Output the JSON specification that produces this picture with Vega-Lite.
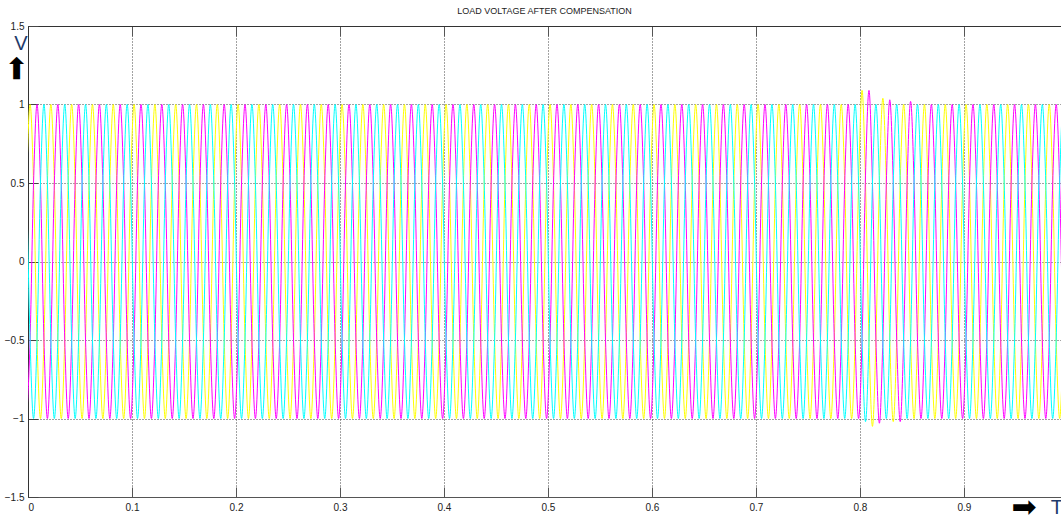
{
"$schema": "https://vega.github.io/schema/vega-lite/v6.json",
"width": 1033, "height": 471,
"autosize": {"type": "none"},
"padding": {"left": 28, "top": 26, "right": 0, "bottom": 19},
"background": "white",
"config": {"view": {"stroke": null}, "font": "Liberation Sans"},
"title": {"text": "LOAD VOLTAGE AFTER COMPENSATION", "fontSize": 9, "fontWeight": "normal", "color": "#222", "offset": 5, "font": "Liberation Sans"},
"datasets": {
"w": [
{"t":-0.00133,"a":0.5,"b":-1,"c":0.5},
{"t":0.002,"a":1,"b":-0.5,"c":-0.5},{"t":0.00533,"a":0.5,"b":0.5,"c":-1},{"t":0.00867,"a":-0.5,"b":1,"c":-0.5},{"t":0.012,"a":-1,"b":0.5,"c":0.5},{"t":0.01533,"a":-0.5,"b":-0.5,"c":1},{"t":0.01867,"a":0.5,"b":-1,"c":0.5},
{"t":0.022,"a":1,"b":-0.5,"c":-0.5},{"t":0.02533,"a":0.5,"b":0.5,"c":-1},{"t":0.02867,"a":-0.5,"b":1,"c":-0.5},{"t":0.032,"a":-1,"b":0.5,"c":0.5},{"t":0.03533,"a":-0.5,"b":-0.5,"c":1},{"t":0.03867,"a":0.5,"b":-1,"c":0.5},
{"t":0.042,"a":1,"b":-0.5,"c":-0.5},{"t":0.04533,"a":0.5,"b":0.5,"c":-1},{"t":0.04867,"a":-0.5,"b":1,"c":-0.5},{"t":0.052,"a":-1,"b":0.5,"c":0.5},{"t":0.05533,"a":-0.5,"b":-0.5,"c":1},{"t":0.05867,"a":0.5,"b":-1,"c":0.5},
{"t":0.062,"a":1,"b":-0.5,"c":-0.5},{"t":0.06533,"a":0.5,"b":0.5,"c":-1},{"t":0.06867,"a":-0.5,"b":1,"c":-0.5},{"t":0.072,"a":-1,"b":0.5,"c":0.5},{"t":0.07533,"a":-0.5,"b":-0.5,"c":1},{"t":0.07867,"a":0.5,"b":-1,"c":0.5},
{"t":0.082,"a":1,"b":-0.5,"c":-0.5},{"t":0.08533,"a":0.5,"b":0.5,"c":-1},{"t":0.08867,"a":-0.5,"b":1,"c":-0.5},{"t":0.092,"a":-1,"b":0.5,"c":0.5},{"t":0.09533,"a":-0.5,"b":-0.5,"c":1},{"t":0.09867,"a":0.5,"b":-1,"c":0.5},
{"t":0.102,"a":1,"b":-0.5,"c":-0.5},{"t":0.10533,"a":0.5,"b":0.5,"c":-1},{"t":0.10867,"a":-0.5,"b":1,"c":-0.5},{"t":0.112,"a":-1,"b":0.5,"c":0.5},{"t":0.11533,"a":-0.5,"b":-0.5,"c":1},{"t":0.11867,"a":0.5,"b":-1,"c":0.5},
{"t":0.122,"a":1,"b":-0.5,"c":-0.5},{"t":0.12533,"a":0.5,"b":0.5,"c":-1},{"t":0.12867,"a":-0.5,"b":1,"c":-0.5},{"t":0.132,"a":-1,"b":0.5,"c":0.5},{"t":0.13533,"a":-0.5,"b":-0.5,"c":1},{"t":0.13867,"a":0.5,"b":-1,"c":0.5},
{"t":0.142,"a":1,"b":-0.5,"c":-0.5},{"t":0.14533,"a":0.5,"b":0.5,"c":-1},{"t":0.14867,"a":-0.5,"b":1,"c":-0.5},{"t":0.152,"a":-1,"b":0.5,"c":0.5},{"t":0.15533,"a":-0.5,"b":-0.5,"c":1},{"t":0.15867,"a":0.5,"b":-1,"c":0.5},
{"t":0.162,"a":1,"b":-0.5,"c":-0.5},{"t":0.16533,"a":0.5,"b":0.5,"c":-1},{"t":0.16867,"a":-0.5,"b":1,"c":-0.5},{"t":0.172,"a":-1,"b":0.5,"c":0.5},{"t":0.17533,"a":-0.5,"b":-0.5,"c":1},{"t":0.17867,"a":0.5,"b":-1,"c":0.5},
{"t":0.182,"a":1,"b":-0.5,"c":-0.5},{"t":0.18533,"a":0.5,"b":0.5,"c":-1},{"t":0.18867,"a":-0.5,"b":1,"c":-0.5},{"t":0.192,"a":-1,"b":0.5,"c":0.5},{"t":0.19533,"a":-0.5,"b":-0.5,"c":1},{"t":0.19867,"a":0.5,"b":-1,"c":0.5},
{"t":0.202,"a":1,"b":-0.5,"c":-0.5},{"t":0.20533,"a":0.5,"b":0.5,"c":-1},{"t":0.20867,"a":-0.5,"b":1,"c":-0.5},{"t":0.212,"a":-1,"b":0.5,"c":0.5},{"t":0.21533,"a":-0.5,"b":-0.5,"c":1},{"t":0.21867,"a":0.5,"b":-1,"c":0.5},
{"t":0.222,"a":1,"b":-0.5,"c":-0.5},{"t":0.22533,"a":0.5,"b":0.5,"c":-1},{"t":0.22867,"a":-0.5,"b":1,"c":-0.5},{"t":0.232,"a":-1,"b":0.5,"c":0.5},{"t":0.23533,"a":-0.5,"b":-0.5,"c":1},{"t":0.23867,"a":0.5,"b":-1,"c":0.5},
{"t":0.242,"a":1,"b":-0.5,"c":-0.5},{"t":0.24533,"a":0.5,"b":0.5,"c":-1},{"t":0.24867,"a":-0.5,"b":1,"c":-0.5},{"t":0.252,"a":-1,"b":0.5,"c":0.5},{"t":0.25533,"a":-0.5,"b":-0.5,"c":1},{"t":0.25867,"a":0.5,"b":-1,"c":0.5},
{"t":0.262,"a":1,"b":-0.5,"c":-0.5},{"t":0.26533,"a":0.5,"b":0.5,"c":-1},{"t":0.26867,"a":-0.5,"b":1,"c":-0.5},{"t":0.272,"a":-1,"b":0.5,"c":0.5},{"t":0.27533,"a":-0.5,"b":-0.5,"c":1},{"t":0.27867,"a":0.5,"b":-1,"c":0.5},
{"t":0.282,"a":1,"b":-0.5,"c":-0.5},{"t":0.28533,"a":0.5,"b":0.5,"c":-1},{"t":0.28867,"a":-0.5,"b":1,"c":-0.5},{"t":0.292,"a":-1,"b":0.5,"c":0.5},{"t":0.29533,"a":-0.5,"b":-0.5,"c":1},{"t":0.29867,"a":0.5,"b":-1,"c":0.5},
{"t":0.302,"a":1,"b":-0.5,"c":-0.5},{"t":0.30533,"a":0.5,"b":0.5,"c":-1},{"t":0.30867,"a":-0.5,"b":1,"c":-0.5},{"t":0.312,"a":-1,"b":0.5,"c":0.5},{"t":0.31533,"a":-0.5,"b":-0.5,"c":1},{"t":0.31867,"a":0.5,"b":-1,"c":0.5},
{"t":0.322,"a":1,"b":-0.5,"c":-0.5},{"t":0.32533,"a":0.5,"b":0.5,"c":-1},{"t":0.32867,"a":-0.5,"b":1,"c":-0.5},{"t":0.332,"a":-1,"b":0.5,"c":0.5},{"t":0.33533,"a":-0.5,"b":-0.5,"c":1},{"t":0.33867,"a":0.5,"b":-1,"c":0.5},
{"t":0.342,"a":1,"b":-0.5,"c":-0.5},{"t":0.34533,"a":0.5,"b":0.5,"c":-1},{"t":0.34867,"a":-0.5,"b":1,"c":-0.5},{"t":0.352,"a":-1,"b":0.5,"c":0.5},{"t":0.35533,"a":-0.5,"b":-0.5,"c":1},{"t":0.35867,"a":0.5,"b":-1,"c":0.5},
{"t":0.362,"a":1,"b":-0.5,"c":-0.5},{"t":0.36533,"a":0.5,"b":0.5,"c":-1},{"t":0.36867,"a":-0.5,"b":1,"c":-0.5},{"t":0.372,"a":-1,"b":0.5,"c":0.5},{"t":0.37533,"a":-0.5,"b":-0.5,"c":1},{"t":0.37867,"a":0.5,"b":-1,"c":0.5},
{"t":0.382,"a":1,"b":-0.5,"c":-0.5},{"t":0.38533,"a":0.5,"b":0.5,"c":-1},{"t":0.38867,"a":-0.5,"b":1,"c":-0.5},{"t":0.392,"a":-1,"b":0.5,"c":0.5},{"t":0.39533,"a":-0.5,"b":-0.5,"c":1},{"t":0.39867,"a":0.5,"b":-1,"c":0.5},
{"t":0.402,"a":1,"b":-0.5,"c":-0.5},{"t":0.40533,"a":0.5,"b":0.5,"c":-1},{"t":0.40867,"a":-0.5,"b":1,"c":-0.5},{"t":0.412,"a":-1,"b":0.5,"c":0.5},{"t":0.41533,"a":-0.5,"b":-0.5,"c":1},{"t":0.41867,"a":0.5,"b":-1,"c":0.5},
{"t":0.422,"a":1,"b":-0.5,"c":-0.5},{"t":0.42533,"a":0.5,"b":0.5,"c":-1},{"t":0.42867,"a":-0.5,"b":1,"c":-0.5},{"t":0.432,"a":-1,"b":0.5,"c":0.5},{"t":0.43533,"a":-0.5,"b":-0.5,"c":1},{"t":0.43867,"a":0.5,"b":-1,"c":0.5},
{"t":0.442,"a":1,"b":-0.5,"c":-0.5},{"t":0.44533,"a":0.5,"b":0.5,"c":-1},{"t":0.44867,"a":-0.5,"b":1,"c":-0.5},{"t":0.452,"a":-1,"b":0.5,"c":0.5},{"t":0.45533,"a":-0.5,"b":-0.5,"c":1},{"t":0.45867,"a":0.5,"b":-1,"c":0.5},
{"t":0.462,"a":1,"b":-0.5,"c":-0.5},{"t":0.46533,"a":0.5,"b":0.5,"c":-1},{"t":0.46867,"a":-0.5,"b":1,"c":-0.5},{"t":0.472,"a":-1,"b":0.5,"c":0.5},{"t":0.47533,"a":-0.5,"b":-0.5,"c":1},{"t":0.47867,"a":0.5,"b":-1,"c":0.5},
{"t":0.482,"a":1,"b":-0.5,"c":-0.5},{"t":0.48533,"a":0.5,"b":0.5,"c":-1},{"t":0.48867,"a":-0.5,"b":1,"c":-0.5},{"t":0.492,"a":-1,"b":0.5,"c":0.5},{"t":0.49533,"a":-0.5,"b":-0.5,"c":1},{"t":0.49867,"a":0.5,"b":-1,"c":0.5},
{"t":0.502,"a":1,"b":-0.5,"c":-0.5},{"t":0.50533,"a":0.5,"b":0.5,"c":-1},{"t":0.50867,"a":-0.5,"b":1,"c":-0.5},{"t":0.512,"a":-1,"b":0.5,"c":0.5},{"t":0.51533,"a":-0.5,"b":-0.5,"c":1},{"t":0.51867,"a":0.5,"b":-1,"c":0.5},
{"t":0.522,"a":1,"b":-0.5,"c":-0.5},{"t":0.52533,"a":0.5,"b":0.5,"c":-1},{"t":0.52867,"a":-0.5,"b":1,"c":-0.5},{"t":0.532,"a":-1,"b":0.5,"c":0.5},{"t":0.53533,"a":-0.5,"b":-0.5,"c":1},{"t":0.53867,"a":0.5,"b":-1,"c":0.5},
{"t":0.542,"a":1,"b":-0.5,"c":-0.5},{"t":0.54533,"a":0.5,"b":0.5,"c":-1},{"t":0.54867,"a":-0.5,"b":1,"c":-0.5},{"t":0.552,"a":-1,"b":0.5,"c":0.5},{"t":0.55533,"a":-0.5,"b":-0.5,"c":1},{"t":0.55867,"a":0.5,"b":-1,"c":0.5},
{"t":0.562,"a":1,"b":-0.5,"c":-0.5},{"t":0.56533,"a":0.5,"b":0.5,"c":-1},{"t":0.56867,"a":-0.5,"b":1,"c":-0.5},{"t":0.572,"a":-1,"b":0.5,"c":0.5},{"t":0.57533,"a":-0.5,"b":-0.5,"c":1},{"t":0.57867,"a":0.5,"b":-1,"c":0.5},
{"t":0.582,"a":1,"b":-0.5,"c":-0.5},{"t":0.58533,"a":0.5,"b":0.5,"c":-1},{"t":0.58867,"a":-0.5,"b":1,"c":-0.5},{"t":0.592,"a":-1,"b":0.5,"c":0.5},{"t":0.59533,"a":-0.5,"b":-0.5,"c":1},{"t":0.59867,"a":0.5,"b":-1,"c":0.5},
{"t":0.602,"a":1,"b":-0.5,"c":-0.5},{"t":0.60533,"a":0.5,"b":0.5,"c":-1},{"t":0.60867,"a":-0.5,"b":1,"c":-0.5},{"t":0.612,"a":-1,"b":0.5,"c":0.5},{"t":0.61533,"a":-0.5,"b":-0.5,"c":1},{"t":0.61867,"a":0.5,"b":-1,"c":0.5},
{"t":0.622,"a":1,"b":-0.5,"c":-0.5},{"t":0.62533,"a":0.5,"b":0.5,"c":-1},{"t":0.62867,"a":-0.5,"b":1,"c":-0.5},{"t":0.632,"a":-1,"b":0.5,"c":0.5},{"t":0.63533,"a":-0.5,"b":-0.5,"c":1},{"t":0.63867,"a":0.5,"b":-1,"c":0.5},
{"t":0.642,"a":1,"b":-0.5,"c":-0.5},{"t":0.64533,"a":0.5,"b":0.5,"c":-1},{"t":0.64867,"a":-0.5,"b":1,"c":-0.5},{"t":0.652,"a":-1,"b":0.5,"c":0.5},{"t":0.65533,"a":-0.5,"b":-0.5,"c":1},{"t":0.65867,"a":0.5,"b":-1,"c":0.5},
{"t":0.662,"a":1,"b":-0.5,"c":-0.5},{"t":0.66533,"a":0.5,"b":0.5,"c":-1},{"t":0.66867,"a":-0.5,"b":1,"c":-0.5},{"t":0.672,"a":-1,"b":0.5,"c":0.5},{"t":0.67533,"a":-0.5,"b":-0.5,"c":1},{"t":0.67867,"a":0.5,"b":-1,"c":0.5},
{"t":0.682,"a":1,"b":-0.5,"c":-0.5},{"t":0.68533,"a":0.5,"b":0.5,"c":-1},{"t":0.68867,"a":-0.5,"b":1,"c":-0.5},{"t":0.692,"a":-1,"b":0.5,"c":0.5},{"t":0.69533,"a":-0.5,"b":-0.5,"c":1},{"t":0.69867,"a":0.5,"b":-1,"c":0.5},
{"t":0.702,"a":1,"b":-0.5,"c":-0.5},{"t":0.70533,"a":0.5,"b":0.5,"c":-1},{"t":0.70867,"a":-0.5,"b":1,"c":-0.5},{"t":0.712,"a":-1,"b":0.5,"c":0.5},{"t":0.71533,"a":-0.5,"b":-0.5,"c":1},{"t":0.71867,"a":0.5,"b":-1,"c":0.5},
{"t":0.722,"a":1,"b":-0.5,"c":-0.5},{"t":0.72533,"a":0.5,"b":0.5,"c":-1},{"t":0.72867,"a":-0.5,"b":1,"c":-0.5},{"t":0.732,"a":-1,"b":0.5,"c":0.5},{"t":0.73533,"a":-0.5,"b":-0.5,"c":1},{"t":0.73867,"a":0.5,"b":-1,"c":0.5},
{"t":0.742,"a":1,"b":-0.5,"c":-0.5},{"t":0.74533,"a":0.5,"b":0.5,"c":-1},{"t":0.74867,"a":-0.5,"b":1,"c":-0.5},{"t":0.752,"a":-1,"b":0.5,"c":0.5},{"t":0.75533,"a":-0.5,"b":-0.5,"c":1},{"t":0.75867,"a":0.5,"b":-1,"c":0.5},
{"t":0.762,"a":1,"b":-0.5,"c":-0.5},{"t":0.76533,"a":0.5,"b":0.5,"c":-1},{"t":0.76867,"a":-0.5,"b":1,"c":-0.5},{"t":0.772,"a":-1,"b":0.5,"c":0.5},{"t":0.77533,"a":-0.5,"b":-0.5,"c":1},{"t":0.77867,"a":0.5,"b":-1,"c":0.5},
{"t":0.782,"a":1,"b":-0.5,"c":-0.5},{"t":0.78533,"a":0.5,"b":0.5,"c":-1},{"t":0.78867,"a":-0.5,"b":1,"c":-0.5},{"t":0.792,"a":-1,"b":0.5,"c":0.5},{"t":0.79533,"a":-0.5,"b":-0.5,"c":1},{"t":0.79867,"a":0.5,"b":-1,"c":0.5},
{"t":0.802,"a":1.09,"b":-0.5,"c":-0.5},{"t":0.80533,"a":0.5,"b":0.55,"c":-1.02},{"t":0.80867,"a":-0.5,"b":1.09,"c":-0.5},{"t":0.812,"a":-1.05,"b":0.5,"c":0.5},{"t":0.81533,"a":-0.5,"b":-0.5,"c":1},{"t":0.81867,"a":0.5,"b":-1.03,"c":0.5},
{"t":0.822,"a":1.04,"b":-0.5,"c":-0.5},{"t":0.82533,"a":0.5,"b":0.5,"c":-1},{"t":0.82867,"a":-0.5,"b":1.03,"c":-0.5},{"t":0.832,"a":-1.02,"b":0.5,"c":0.5},{"t":0.83533,"a":-0.5,"b":-0.5,"c":1},{"t":0.83867,"a":0.5,"b":-1.02,"c":0.5},
{"t":0.842,"a":1,"b":-0.5,"c":-0.5},{"t":0.84533,"a":0.5,"b":0.5,"c":-1},{"t":0.84867,"a":-0.5,"b":1.02,"c":-0.5},{"t":0.852,"a":-1,"b":0.5,"c":0.5},{"t":0.85533,"a":-0.5,"b":-0.5,"c":1},{"t":0.85867,"a":0.5,"b":-1,"c":0.5},
{"t":0.862,"a":1,"b":-0.5,"c":-0.5},{"t":0.86533,"a":0.5,"b":0.5,"c":-1},{"t":0.86867,"a":-0.5,"b":1,"c":-0.5},{"t":0.872,"a":-1,"b":0.5,"c":0.5},{"t":0.87533,"a":-0.5,"b":-0.5,"c":1},{"t":0.87867,"a":0.5,"b":-1,"c":0.5},
{"t":0.882,"a":1,"b":-0.5,"c":-0.5},{"t":0.88533,"a":0.5,"b":0.5,"c":-1},{"t":0.88867,"a":-0.5,"b":1,"c":-0.5},{"t":0.892,"a":-1,"b":0.5,"c":0.5},{"t":0.89533,"a":-0.5,"b":-0.5,"c":1},{"t":0.89867,"a":0.5,"b":-1,"c":0.5},
{"t":0.902,"a":1,"b":-0.5,"c":-0.5},{"t":0.90533,"a":0.5,"b":0.5,"c":-1},{"t":0.90867,"a":-0.5,"b":1,"c":-0.5},{"t":0.912,"a":-1,"b":0.5,"c":0.5},{"t":0.91533,"a":-0.5,"b":-0.5,"c":1},{"t":0.91867,"a":0.5,"b":-1,"c":0.5},
{"t":0.922,"a":1,"b":-0.5,"c":-0.5},{"t":0.92533,"a":0.5,"b":0.5,"c":-1},{"t":0.92867,"a":-0.5,"b":1,"c":-0.5},{"t":0.932,"a":-1,"b":0.5,"c":0.5},{"t":0.93533,"a":-0.5,"b":-0.5,"c":1},{"t":0.93867,"a":0.5,"b":-1,"c":0.5},
{"t":0.942,"a":1,"b":-0.5,"c":-0.5},{"t":0.94533,"a":0.5,"b":0.5,"c":-1},{"t":0.94867,"a":-0.5,"b":1,"c":-0.5},{"t":0.952,"a":-1,"b":0.5,"c":0.5},{"t":0.95533,"a":-0.5,"b":-0.5,"c":1},{"t":0.95867,"a":0.5,"b":-1,"c":0.5},
{"t":0.962,"a":1,"b":-0.5,"c":-0.5},{"t":0.96533,"a":0.5,"b":0.5,"c":-1},{"t":0.96867,"a":-0.5,"b":1,"c":-0.5},{"t":0.972,"a":-1,"b":0.5,"c":0.5},{"t":0.97533,"a":-0.5,"b":-0.5,"c":1},{"t":0.97867,"a":0.5,"b":-1,"c":0.5},
{"t":0.982,"a":1,"b":-0.5,"c":-0.5},{"t":0.98533,"a":0.5,"b":0.5,"c":-1},{"t":0.98867,"a":-0.5,"b":1,"c":-0.5},{"t":0.992,"a":-1,"b":0.5,"c":0.5},{"t":0.99533,"a":-0.5,"b":-0.5,"c":1},{"t":0.99867,"a":0.5,"b":-1,"c":0.5}
],
"ann": [
{"s":"V","k":"letter","t":-0.0067,"v":1.385},
{"s":"T","k":"letter","t":0.9894,"v":-1.57},
{"s":"➡","k":"up","t":-0.0106,"v":1.23},
{"s":"➡","k":"right","t":0.9577,"v":-1.57}
]
},
"resolve": {"axis": {"x": "independent", "y": "independent"}},
"layer": [
{
"data": {"name": "w"},
"transform": [{"fold": ["a", "b", "c"], "as": ["ph", "v"]}],
"mark": {"type": "line", "interpolate": "monotone", "strokeWidth": 1, "clip": true},
"encoding": {
"x": {"field": "t", "type": "quantitative", "scale": {"domain": [0, 0.9933], "nice": false, "zero": false},
"axis": {"orient": "bottom", "values": [0, 0.1, 0.2, 0.3, 0.4, 0.5, 0.6, 0.7, 0.8, 0.9], "format": "~g", "grid": true, "gridColor": "#444", "gridDash": [1, 2], "gridWidth": 1, "tickSize": -10, "tickColor": "#555", "domainColor": "#555", "labelFontSize": 10, "labelColor": "#222", "labelPadding": 15, "title": null}},
"y": {"field": "v", "type": "quantitative", "scale": {"domain": [-1.5, 1.5], "nice": false, "zero": false},
"axis": {"orient": "left", "values": [-1.5, -1, -0.5, 0, 0.5, 1, 1.5], "format": "~g", "grid": true, "gridColor": "#444", "gridDash": [1, 2], "gridWidth": 1, "tickSize": -10, "tickColor": "#444", "domainColor": "#333", "labelFontSize": 10, "labelColor": "#222", "labelPadding": 14, "title": null}},
"color": {"field": "ph", "type": "nominal", "scale": {"domain": ["a", "b", "c"], "range": ["#ffff00", "#ff00ff", "#00ffff"]}, "legend": null}
}
},
{
"data": {"name": "ann"},
"transform": [{"filter": "datum.k == 'letter'"}],
"mark": {"type": "text", "fontSize": 20, "color": "#1f3b6b", "align": "center", "baseline": "middle", "font": "Liberation Sans"},
"encoding": {
"x": {"field": "t", "type": "quantitative", "axis": {"orient": "top", "values": [0.1, 0.2, 0.3, 0.4, 0.5, 0.6, 0.7, 0.8, 0.9], "labels": false, "grid": false, "tickSize": -10, "tickColor": "#555", "domainColor": "#333", "title": null}},
"y": {"field": "v", "type": "quantitative", "axis": null},
"text": {"field": "s"}
}
},
{
"data": {"name": "ann"},
"transform": [{"filter": "datum.k == 'up'"}],
"mark": {"type": "text", "fontSize": 30, "color": "black", "angle": 270, "align": "center", "baseline": "middle", "font": "DejaVu Sans"},
"encoding": {
"x": {"field": "t", "type": "quantitative", "axis": null},
"y": {"field": "v", "type": "quantitative", "axis": null},
"text": {"field": "s"}
}
},
{
"data": {"name": "ann"},
"transform": [{"filter": "datum.k == 'right'"}],
"mark": {"type": "text", "fontSize": 30, "color": "black", "align": "center", "baseline": "middle", "font": "DejaVu Sans"},
"encoding": {
"x": {"field": "t", "type": "quantitative", "axis": null},
"y": {"field": "v", "type": "quantitative", "axis": null},
"text": {"field": "s"}
}
}
]
}
